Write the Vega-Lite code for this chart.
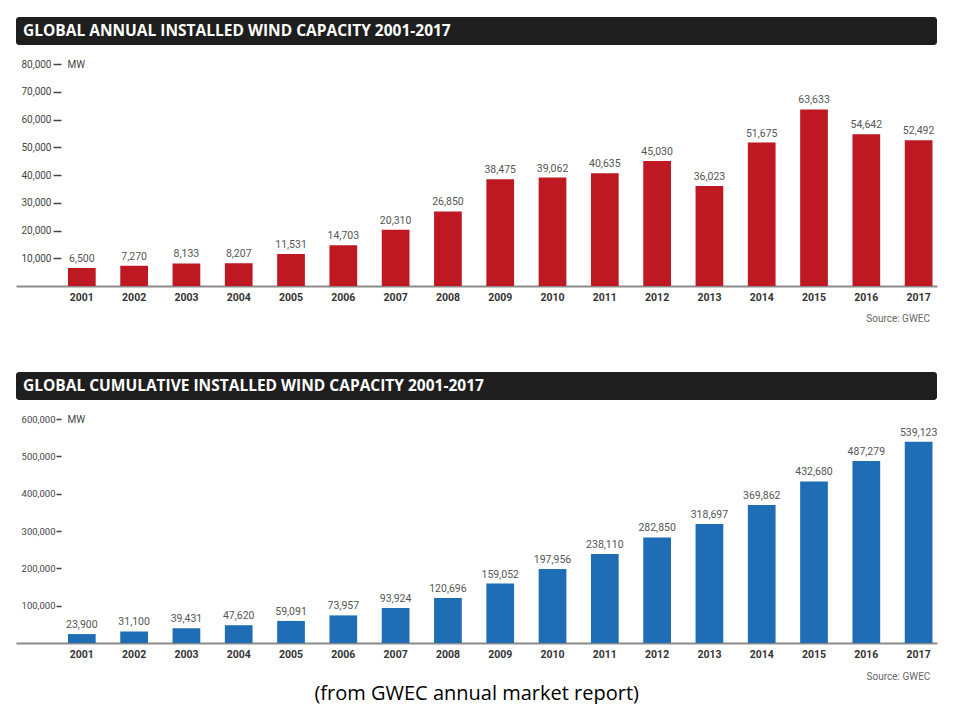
{
  "$schema": "https://vega.github.io/schema/vega-lite/v6.json",
  "description": "GWEC global annual and cumulative installed wind capacity, 2001-2017.",
  "padding": {"left": 16, "top": 17, "right": 0, "bottom": 0},
  "background": "white",
  "title": {
    "text": "(from GWEC annual market report)",
    "orient": "bottom",
    "anchor": "middle",
    "font": "Open Sans",
    "fontSize": 20,
    "fontWeight": "normal",
    "color": "black",
    "offset": 2
  },
  "datasets": {
    "wind": [
      {"year": "2001", "annual": 6500, "cumulative": 23900},
      {"year": "2002", "annual": 7270, "cumulative": 31100},
      {"year": "2003", "annual": 8133, "cumulative": 39431},
      {"year": "2004", "annual": 8207, "cumulative": 47620},
      {"year": "2005", "annual": 11531, "cumulative": 59091},
      {"year": "2006", "annual": 14703, "cumulative": 73957},
      {"year": "2007", "annual": 20310, "cumulative": 93924},
      {"year": "2008", "annual": 26850, "cumulative": 120696},
      {"year": "2009", "annual": 38475, "cumulative": 159052},
      {"year": "2010", "annual": 39062, "cumulative": 197956},
      {"year": "2011", "annual": 40635, "cumulative": 238110},
      {"year": "2012", "annual": 45030, "cumulative": 282850},
      {"year": "2013", "annual": 36023, "cumulative": 318697},
      {"year": "2014", "annual": 51675, "cumulative": 369862},
      {"year": "2015", "annual": 63633, "cumulative": 432680},
      {"year": "2016", "annual": 54642, "cumulative": 487279},
      {"year": "2017", "annual": 52492, "cumulative": 539123}
    ]
  },
  "vconcat": [
    {
      "spacing": 14,
      "vconcat": [
        {
          "width": 921,
          "height": 28,
          "view": {"fill": "#1e1e1e", "stroke": null, "cornerRadius": 3},
          "data": {"values": [{"label": "GLOBAL ANNUAL INSTALLED WIND CAPACITY 2001-2017"}]},
          "mark": {"type": "text", "align": "left", "baseline": "middle", "font": "Open Sans", "fontSize": 15.5, "fontWeight": "bold", "color": "white"},
          "encoding": {
            "x": {"value": 7},
            "y": {"value": 14},
            "text": {"field": "label"}
          }
        },
        {
          "width": 921,
          "height": 222,
          "data": {"name": "wind"},
          "title": {
            "text": "Source: GWEC",
            "orient": "bottom",
            "anchor": "end",
            "dx": -7,
            "offset": 11,
            "font": "Roboto",
            "fontSize": 10,
            "fontWeight": "normal",
            "color": "#666"
          },
          "encoding": {
            "x": {
              "field": "year",
              "type": "ordinal",
              "scale": {"paddingInner": 0.47, "paddingOuter": 0.54, "align": 0.92},
              "axis": {"title": null, "labelAngle": 0, "ticks": false, "domainColor": "#8a8a8a", "domainWidth": 2, "labelPadding": 6, "labelFont": "Roboto", "labelFontSize": 10.5, "labelFontWeight": "bold", "labelColor": "#333"}
            },
            "y": {
              "field": "annual",
              "type": "quantitative",
              "scale": {"domain": [0, 80000], "nice": false},
              "axis": {
                "values": [10000, 20000, 30000, 40000, 50000, 60000, 70000, 80000],
                "format": ",d",
                "offset": -45,
                "domain": false,
                "grid": false,
                "tickSize": 8,
                "tickColor": "#444",
                "tickWidth": 1.5,
                "labelPadding": 2,
                "labelFont": "Roboto",
                "labelFontSize": 10,
                "labelColor": "#444",
                "title": "MW",
                "titleAngle": 0,
                "titleX": 6,
                "titleY": 0,
                "titleAlign": "left",
                "titleBaseline": "middle",
                "titleFont": "Roboto",
                "titleFontSize": 10,
                "titleFontWeight": "normal",
                "titleColor": "#444"
              }
            }
          },
          "layer": [
            {"mark": {"type": "bar", "color": "#be1823"}},
            {
              "mark": {"type": "text", "baseline": "bottom", "dy": -4, "font": "Roboto", "fontSize": 10.5, "color": "#555"},
              "encoding": {"text": {"field": "annual", "type": "quantitative", "format": ",d"}}
            }
          ]
        }
      ]
    },
    {
      "spacing": 14,
      "vconcat": [
        {
          "width": 921,
          "height": 28,
          "view": {"fill": "#1e1e1e", "stroke": null, "cornerRadius": 3},
          "data": {"values": [{"label": "GLOBAL CUMULATIVE INSTALLED WIND CAPACITY 2001-2017"}]},
          "mark": {"type": "text", "align": "left", "baseline": "middle", "font": "Open Sans", "fontSize": 15.5, "fontWeight": "bold", "color": "white"},
          "encoding": {
            "x": {"value": 7},
            "y": {"value": 14},
            "text": {"field": "label"}
          }
        },
        {
          "width": 921,
          "height": 224,
          "data": {"name": "wind"},
          "title": {
            "text": "Source: GWEC",
            "orient": "bottom",
            "anchor": "end",
            "dx": -7,
            "offset": 12,
            "font": "Roboto",
            "fontSize": 10,
            "fontWeight": "normal",
            "color": "#666"
          },
          "encoding": {
            "x": {
              "field": "year",
              "type": "ordinal",
              "scale": {"paddingInner": 0.47, "paddingOuter": 0.54, "align": 0.92},
              "axis": {"title": null, "labelAngle": 0, "ticks": false, "domainColor": "#8a8a8a", "domainWidth": 2, "labelPadding": 6, "labelFont": "Roboto", "labelFontSize": 10.5, "labelFontWeight": "bold", "labelColor": "#333"}
            },
            "y": {
              "field": "cumulative",
              "type": "quantitative",
              "scale": {"domain": [0, 600000], "nice": false},
              "axis": {
                "values": [100000, 200000, 300000, 400000, 500000, 600000],
                "format": ",d",
                "offset": -45,
                "domain": false,
                "grid": false,
                "tickSize": 5,
                "tickColor": "#444",
                "tickWidth": 1.5,
                "labelPadding": 1,
                "labelFont": "Roboto",
                "labelFontSize": 9.5,
                "labelColor": "#444",
                "title": "MW",
                "titleAngle": 0,
                "titleX": 6,
                "titleY": 0,
                "titleAlign": "left",
                "titleBaseline": "middle",
                "titleFont": "Roboto",
                "titleFontSize": 10,
                "titleFontWeight": "normal",
                "titleColor": "#444"
              }
            }
          },
          "layer": [
            {"mark": {"type": "bar", "color": "#1f6db5"}},
            {
              "mark": {"type": "text", "baseline": "bottom", "dy": -4, "font": "Roboto", "fontSize": 10.5, "color": "#555"},
              "encoding": {"text": {"field": "cumulative", "type": "quantitative", "format": ",d"}}
            }
          ]
        }
      ]
    }
  ],
  "spacing": 48,
  "config": {
    "view": {"stroke": null},
    "bar": {"opacity": 1}
  }
}
